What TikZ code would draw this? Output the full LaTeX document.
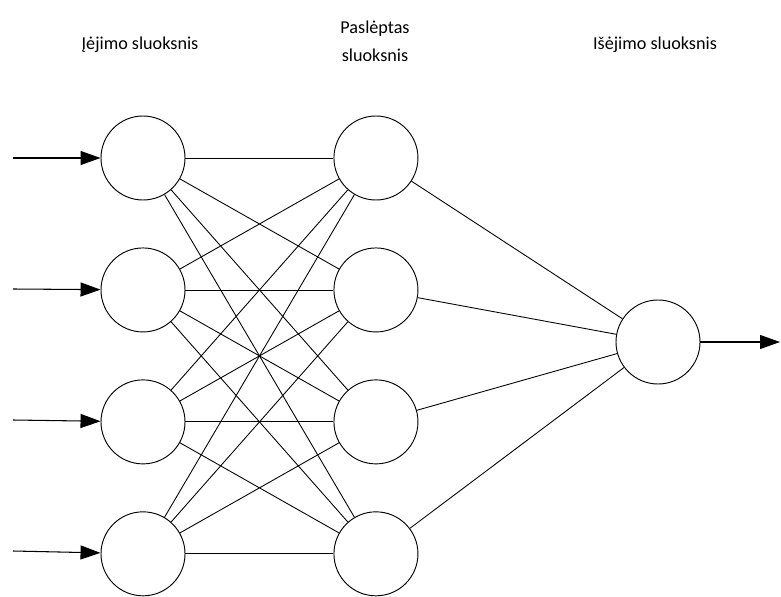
\documentclass[tikz,border=0pt]{standalone}
\usepackage{fontspec}
\setmainfont{Carlito}
\usetikzlibrary{positioning, arrows.meta}

\begin{document}
\begin{tikzpicture}[x=0.03cm, y=-0.03cm,
    neuron/.style={circle, draw, line width=0.8pt, minimum size=2.52cm, inner sep=0pt},
    link/.style={line width=0.75pt},
    signal/.style={line width=0.9pt, -{Triangle[length=0.6cm, width=0.42cm]}},
    caption/.style={font=\fontsize{15.5}{23.5}\selectfont, align=center}]
\useasboundingbox (0,0) rectangle (781,597);

% input layer
\node[neuron] (i1) at (143,158) {};
\node[neuron, below=1.41cm of i1] (i2) {};
\node[neuron, below=1.41cm of i2] (i3) {};
\node[neuron, below=1.41cm of i3] (i4) {};

% hidden layer
\node[neuron, right=4.44cm of i1] (h1) {};
\node[neuron, right=4.44cm of i2] (h2) {};
\node[neuron, right=4.44cm of i3] (h3) {};
\node[neuron, right=4.44cm of i4] (h4) {};

% output layer
\node[neuron] (o) at (658,342) {};

% titles
\node[caption] (t1) at (140,45) {Įėjimo sluoksnis};
\node[caption] (t2) at (375,41) {Paslėptas\\sluoksnis};
\node[caption] (t3) at (655,45) {Išėjimo sluoksnis};

% free ends of the arrows
\coordinate (x1) at (13,158);
\coordinate (x2) at (13,289);
\coordinate (x3) at (13,420);
\coordinate (x4) at (13,551);
\coordinate (y) at (780,342);

\draw[signal] (x1) -- (i1);
\draw[signal] (x2) -- (i2);
\draw[signal] (x3) -- (i3);
\draw[signal] (x4) -- (i4);
\draw[signal] (o) -- (y);

\draw[link]
    (i1) edge (h1) (i1) edge (h2) (i1) edge (h3) (i1) edge (h4)
    (i2) edge (h1) (i2) edge (h2) (i2) edge (h3) (i2) edge (h4)
    (i3) edge (h1) (i3) edge (h2) (i3) edge (h3) (i3) edge (h4)
    (i4) edge (h1) (i4) edge (h2) (i4) edge (h3) (i4) edge (h4);
\draw[link]
    (h1) edge (o) (h2) edge (o) (h3) edge (o) (h4) edge (o);
\end{tikzpicture}
\end{document}
